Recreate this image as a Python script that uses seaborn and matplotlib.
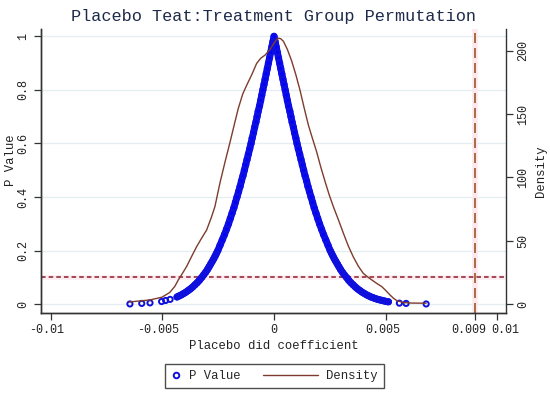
import numpy as np
import pandas as pd
import seaborn as sns
import matplotlib.pyplot as plt
import matplotlib.transforms as mtransforms
from matplotlib.lines import Line2D
from matplotlib.legend_handler import HandlerLine2D

# placebo coefficients and their p values (left half, right half)
left_coef = [-0.00646, -0.00593, -0.00556, -0.00504, -0.00486, -0.00466,
             -0.00435, -0.00425, -0.00415, -0.00405, -0.00395, -0.00385,
             -0.00375, -0.00365, -0.00355, -0.00345, -0.00335, -0.00324,
             -0.00315, -0.00306, -0.00298, -0.00291, -0.00284, -0.00277,
             -0.00270, -0.00264, -0.00258, -0.00252, -0.00242, -0.00232,
             -0.00222, -0.00213, -0.00204, -0.00196, -0.00188, -0.00180,
             -0.00173, -0.00166, -0.00159, -0.00152, -0.00146, -0.00139,
             -0.00133, -0.00127, -0.00121, -0.00115, -0.00109, -0.00103,
             -0.00098, -0.00092, -0.00087, -0.00081, -0.00076, -0.00071,
             -0.00065, -0.00060, -0.00055, -0.00050, -0.00045, -0.00040,
             -0.00035, -0.00030, -0.00025, -0.00020, -0.00015, -0.00010,
             -0.00005, 0.0]
left_p = [0.001, 0.003, 0.005, 0.010, 0.014, 0.018,
          0.027, 0.031, 0.035, 0.040, 0.045, 0.051,
          0.057, 0.064, 0.072, 0.080, 0.089, 0.100,
          0.110, 0.120, 0.130, 0.140, 0.150, 0.160,
          0.170, 0.180, 0.190, 0.200, 0.220, 0.240,
          0.260, 0.280, 0.300, 0.320, 0.340, 0.360,
          0.380, 0.400, 0.420, 0.440, 0.460, 0.480,
          0.500, 0.520, 0.540, 0.560, 0.580, 0.600,
          0.620, 0.640, 0.660, 0.680, 0.700, 0.720,
          0.740, 0.760, 0.780, 0.800, 0.820, 0.840,
          0.860, 0.880, 0.900, 0.920, 0.940, 0.960,
          0.980, 1.000]

right_coef = [0.00005, 0.00010, 0.00015, 0.00020, 0.00025, 0.00030,
              0.00035, 0.00040, 0.00045, 0.00050, 0.00055, 0.00060,
              0.00065, 0.00071, 0.00076, 0.00081, 0.00087, 0.00092,
              0.00098, 0.00103, 0.00109, 0.00115, 0.00121, 0.00127,
              0.00133, 0.00139, 0.00146, 0.00152, 0.00159, 0.00166,
              0.00173, 0.00180, 0.00188, 0.00196, 0.00204, 0.00213,
              0.00222, 0.00232, 0.00242, 0.00252, 0.00258, 0.00264,
              0.00270, 0.00277, 0.00284, 0.00291, 0.00298, 0.00306,
              0.00315, 0.00326, 0.00335, 0.00345, 0.00355, 0.00365,
              0.00375, 0.00385, 0.00395, 0.00405, 0.00415, 0.00425,
              0.00435, 0.00445, 0.00455, 0.00465, 0.00475, 0.00485,
              0.00495, 0.00505, 0.00513, 0.00562, 0.00592, 0.00682]
right_p = [0.980, 0.960, 0.940, 0.920, 0.900, 0.880,
           0.860, 0.840, 0.820, 0.800, 0.780, 0.760,
           0.740, 0.720, 0.700, 0.680, 0.660, 0.640,
           0.620, 0.600, 0.580, 0.560, 0.540, 0.520,
           0.500, 0.480, 0.460, 0.440, 0.420, 0.400,
           0.380, 0.360, 0.340, 0.320, 0.300, 0.280,
           0.260, 0.240, 0.220, 0.200, 0.190, 0.180,
           0.170, 0.160, 0.150, 0.140, 0.130, 0.120,
           0.110, 0.099, 0.089, 0.080, 0.072, 0.064,
           0.057, 0.051, 0.045, 0.040, 0.035, 0.031,
           0.027, 0.024, 0.021, 0.018, 0.016, 0.014,
           0.012, 0.010, 0.009, 0.004, 0.003, 0.001]

# kernel density of the placebo coefficients
dens_x = [-0.00649, -0.00600, -0.00556, -0.00503, -0.00468, -0.00445,
          -0.00429, -0.00410, -0.00392, -0.00370, -0.00347, -0.00325,
          -0.00302, -0.00282, -0.00265, -0.00242, -0.00220, -0.00197,
          -0.00175, -0.00160, -0.00140, -0.00122, -0.00100, -0.00078,
          -0.00060, -0.00040, -0.00018, 0.00000, 0.00017, 0.00030,
          0.00042, 0.00060, 0.00079, 0.00098, 0.00117, 0.00135,
          0.00154, 0.00172, 0.00191, 0.00210, 0.00229, 0.00248,
          0.00266, 0.00290, 0.00311, 0.00333, 0.00355, 0.00378,
          0.00400, 0.00420, 0.00438, 0.00460, 0.00483, 0.00500,
          0.00520, 0.00535, 0.00550, 0.00580, 0.00620, 0.00682]
dens_y = [1.8, 2.6, 3.4, 5.5, 9.2, 14.0,
          19.2, 24.5, 29.7, 37.5, 45.4, 52.0,
          58.6, 68.0, 77.0, 96.0, 112.0, 128.0,
          144.0, 154.6, 166.0, 173.0, 181.0, 190.0,
          194.0, 196.6, 201.0, 206.0, 210.0, 209.5,
          207.5, 201.0, 192.0, 181.0, 168.5, 155.0,
          141.4, 131.0, 120.3, 108.0, 96.7, 86.0,
          77.0, 66.0, 56.0, 46.0, 37.5, 30.0,
          24.4, 21.5, 19.2, 16.5, 13.9, 11.0,
          7.3, 4.8, 2.9, 1.3, 0.9, 0.8]

true_effect = 0.009
p_cut = 0.1

x_ticks = [-0.01, -0.005, 0, 0.005, 0.009, 0.01]
x_labels = ['-0.01', '-0.005', '0', '0.005', '0.009', '0.01']
p_ticks = [0, 0.2, 0.4, 0.6, 0.8, 1]
p_labels = ['0', '0.2', '0.4', '0.6', '0.8', '1']
d_ticks = [0, 50, 100, 150, 200]

df_p = pd.DataFrame({'coef': left_coef + right_coef, 'p': left_p + right_p})
# the dense middle part, where the circles pile up into a solid band
df_band = pd.DataFrame({'coef': left_coef[6:] + right_coef[:-3],
                        'p': left_p[6:] + right_p[:-3]})
df_d = pd.DataFrame({'coef': dens_x, 'density': dens_y})

sns.set_style('white')
plt.rcParams['font.family'] = ['Liberation Mono', 'DejaVu Sans']

fig = plt.figure(figsize=(5.5, 3.93), dpi=100)
ax1 = fig.add_axes([0.074, 0.203, 0.846, 0.723])
ax2 = ax1.twinx()

ax1.yaxis.grid(True, color='#e4eef1', lw=1)
ax1.set_axisbelow(True)

# reference lines
ax1.axhline(p_cut, color='#fdeef2', lw=3.5, zorder=1)
ax1.axhline(p_cut, color='#8b1a2b', lw=1.1, ls=(0, (3, 2)), zorder=2)
ax1.axvline(true_effect, color='#fde8ee', lw=4, zorder=1)
ax1.axvline(true_effect, color='#9a5628', lw=1.2, ls=(0, (6, 3)), zorder=2)

sns.lineplot(data=df_band, x='coef', y='p', ax=ax1, color='#0000ff', lw=5,
             solid_capstyle='round', solid_joinstyle='round', zorder=3)
sns.scatterplot(data=df_p, x='coef', y='p', ax=ax1, marker='o', s=14,
                color='#0000ff', facecolor='none', edgecolor='#1010dd',
                linewidth=1.4, zorder=3)
sns.lineplot(data=df_d, x='coef', y='density', ax=ax2, color='#7d3c2e',
             lw=1, sort=False, estimator=None)

ax1.set_xlim(-0.01046, 0.0104)
ax1.set_ylim(-0.0336, 1.027)
ax2.set_ylim(-7.1, 217.1)

ax1.set_xticks(x_ticks)
ax1.set_xticklabels(x_labels)
ax1.set_yticks(p_ticks)
ax1.set_yticklabels(p_labels, rotation=90, va='center')
ax2.set_yticks(d_ticks)
ax2.set_yticklabels([str(t) for t in d_ticks], rotation=90, va='center')

for ax in (ax1, ax2):
    ax.tick_params(direction='out', length=5, width=0.9, color='#333333',
                   labelsize=8.5, labelcolor='#222222', pad=3)
    ax.spines['top'].set_visible(False)
    for s in ('left', 'right', 'bottom'):
        ax.spines[s].set_color('#333333')
        ax.spines[s].set_linewidth(1)
ax1.spines['right'].set_visible(False)
ax1.tick_params(axis='both', bottom=True, left=True)
ax2.tick_params(axis='y', right=True)

# nudge the last two x labels apart like the original
for lab, dx in zip(ax1.get_xticklabels(), [-3, -3, 0, -2, -4, 6]):
    lab.set_transform(lab.get_transform() +
                      mtransforms.ScaledTranslation(dx / 72, 0, fig.dpi_scale_trans))

ax1.set_xlabel('Placebo did coefficient', fontsize=8.8, color='#222222', labelpad=3)
ax1.set_ylabel('P Value', fontsize=8.8, color='#222222')
ax1.yaxis.set_label_coords(-0.052, 0.54)
ax2.set_ylabel('Density', fontsize=8.8, color='#222222', labelpad=4)
ax1.set_title('Placebo Teat:Treatment Group Permutation', fontsize=12.2,
              color='#1e2a4a', pad=6)


class LongLine(HandlerLine2D):
    # stretch the density sample line to the left into the column gap
    def create_artists(self, legend, orig_handle, xdescent, ydescent,
                       width, height, fontsize, trans):
        extra = 33
        return super().create_artists(legend, orig_handle, xdescent + extra,
                                      ydescent, width + extra, height,
                                      fontsize, trans)


h_p = Line2D([], [], ls='none', marker='o', mfc='none', mec='#1010dd',
             mew=1.4, ms=4)
h_d = Line2D([], [], color='#7d3c2e', lw=1)
leg = fig.legend([h_p, h_d], ['P Value', 'Density'], loc='center',
                 bbox_to_anchor=(0.499, 0.043), ncol=2, fontsize=8.8,
                 frameon=True, fancybox=False, handlelength=0.8,
                 handletextpad=0.6, columnspacing=5.6, borderpad=0.5,
                 handler_map={h_d: LongLine()})
leg.get_frame().set_edgecolor('#222222')
leg.get_frame().set_linewidth(1)

fig.savefig('out.png', dpi=100)
